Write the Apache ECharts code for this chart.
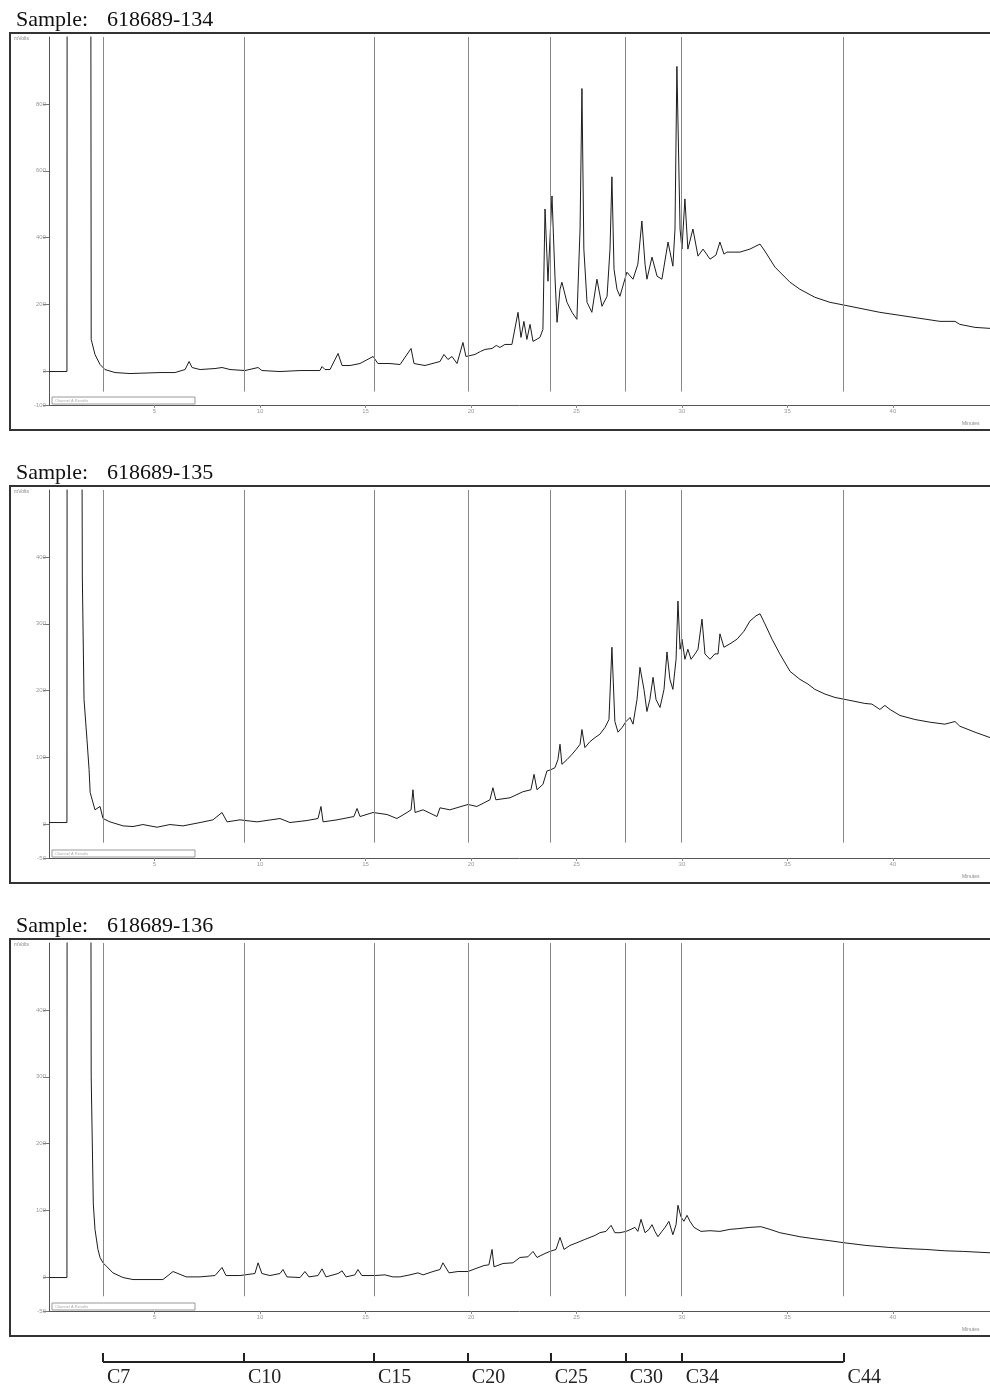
<!DOCTYPE html>
<html>
<head>
<meta charset="utf-8">
<script src="https://cdn.jsdelivr.net/npm/echarts@6/dist/echarts.min.js"></script>
<style>
html,body{margin:0;padding:0;background:#fff;}
#chart{width:990px;height:1390px;}
</style>
</head>
<body>
<div id="chart"></div>
<script>
// ---- data (time in minutes, response in mVolts) ----
const sampleIds = ['618689-134', '618689-135', '618689-136'];

const carbonTimes = [2.56, 9.24, 15.4, 19.85, 23.78, 27.33, 29.99, 37.66];
const carbonLabels = ['C7', 'C10', 'C15', 'C20', 'C25', 'C30', 'C34', 'C44'];

const xTickMinutes = [5, 10, 15, 20, 25, 30, 35, 40];
const yTicks134 = [-100, 0, 200, 400, 600, 800];
const yTicks135 = [-50, 0, 100, 200, 300, 400];
const yTicks136 = [-50, 0, 100, 200, 300, 400];

const trace134 = [
[0,0],[0.85,0],[0.86,1300],[1.98,1300],[2.0,96],[2.18,51],[2.42,21],[2.65,6],[3.13,-3],[3.84,-6],
[5.26,-3],[5.97,-3],[6.45,6],[6.64,30],[6.78,12],[7.16,6],[7.87,9],[8.2,12],[8.58,6],[9.29,3],
[9.91,12],[10.09,3],[10.95,0],[11.9,3],[12.84,3],[12.94,15],[13.08,6],[13.32,6],[13.7,54],[13.89,18],
[14.27,18],[14.74,24],[15.36,45],[15.59,24],[16.16,24],[16.64,21],[17.16,69],[17.3,24],[17.82,18],[18.53,30],
[18.72,51],[18.91,36],[19.1,45],[19.34,24],[19.62,87],[19.76,45],[20.19,51],[20.45,60],[20.66,66],[21.0,69],[21.2,78],[21.37,72],
[21.61,81],[21.94,81],[22.23,177],[22.37,102],[22.51,150],[22.65,96],[22.8,141],[22.94,90],[23.27,102],[23.41,126],
[23.51,486],[23.65,270],[23.84,525],[23.98,285],[24.08,147],[24.22,246],[24.31,267],[24.55,207],[24.79,177],[25.02,156],
[25.17,426],[25.26,846],[25.35,366],[25.5,207],[25.73,177],[25.97,276],[26.21,195],[26.45,225],[26.59,366],[26.68,582],
[26.78,306],[26.92,246],[27.06,225],[27.39,297],[27.68,276],[27.91,321],[28.1,450],[28.25,321],[28.34,276],[28.58,342],
[28.82,285],[29.05,276],[29.34,387],[29.57,315],[29.67,426],[29.76,912],[29.91,426],[30.0,366],[30.14,516],[30.28,366],
[30.52,426],[30.76,345],[31.0,366],[31.33,336],[31.61,348],[31.8,387],[31.99,351],[32.13,357],[32.75,357],[33.22,366],
[33.7,381],[33.93,360],[34.41,312],[35.12,267],[35.59,246],[36.3,222],[37.01,207],[37.73,198],[38.44,189],[39.38,177],
[40.33,168],[41.28,159],[42.23,150],[42.94,150],[43.17,141],[43.89,132],[44.6,129]
];

const trace135 = [
[0,3],[0.85,3],[0.86,700],[1.55,700],[1.58,370],[1.66,187],[1.8,127],[1.9,82],[1.95,48],[2.18,22],
[2.42,27],[2.56,9],[2.89,4],[3.51,-2],[3.98,-3],[4.45,0],[5.12,-4],[5.73,0],[6.35,-2],[7.16,3],
[7.77,7],[8.2,18],[8.44,4],[9.05,7],[9.86,4],[10.95,9],[11.42,3],[12.23,6],[12.75,9],[12.89,27],
[12.99,4],[13.65,7],[14.45,12],[14.6,24],[14.74,12],[15.36,18],[16.02,15],[16.49,9],[16.97,18],[17.16,22],
[17.25,52],[17.35,18],[17.73,22],[18.39,12],[18.53,25],[19.0,22],[19.86,30],[20.28,27],[20.9,37],[21.04,55],
[21.18,37],[21.85,40],[22.46,49],[22.84,52],[22.99,75],[23.13,52],[23.41,60],[23.6,80],[23.79,82],[23.98,85],
[24.12,97],[24.22,120],[24.31,90],[24.55,97],[24.79,105],[24.98,112],[25.17,120],[25.26,142],[25.4,115],[25.64,124],
[25.88,130],[26.11,135],[26.35,145],[26.54,157],[26.68,265],[26.82,154],[26.97,138],[27.16,145],[27.35,154],[27.54,160],
[27.68,150],[27.87,187],[28.01,235],[28.2,202],[28.34,169],[28.48,187],[28.63,220],[28.77,187],[28.96,175],[29.15,202],
[29.29,258],[29.43,217],[29.57,202],[29.72,247],[29.81,334],[29.91,262],[30.0,277],[30.14,247],[30.28,262],[30.43,247],
[30.62,255],[30.76,262],[30.95,307],[31.09,255],[31.33,247],[31.56,255],[31.71,255],[31.8,285],[31.99,265],[32.27,270],
[32.61,277],[32.94,289],[33.22,304],[33.51,312],[33.7,315],[33.93,300],[34.27,277],[34.64,255],[35.12,229],[35.59,217],
[35.97,210],[36.3,202],[36.78,195],[37.25,190],[37.73,187],[38.2,184],[38.67,181],[39.0,180],[39.38,172],[39.62,178],
[39.86,172],[40.33,163],[41.04,157],[41.75,153],[42.46,150],[42.94,154],[43.17,147],[43.89,138],[44.6,130]
];

const trace136 = [
[0,0],[0.85,0],[0.86,700],[1.98,700],[2.0,300],[2.1,110],[2.18,72],[2.32,42],[2.42,30],[2.56,22],
[2.75,16],[3.03,7],[3.51,0],[3.98,-3],[5.4,-3],[5.88,9],[6.5,1],[7.16,1],[7.87,3],[8.2,15],
[8.39,3],[9.05,3],[9.76,6],[9.91,22],[10.09,6],[10.47,3],[10.95,6],[11.09,12],[11.28,1],[11.9,0],
[12.13,9],[12.32,1],[12.75,3],[12.94,13],[13.13,1],[13.7,6],[13.89,10],[14.08,1],[14.5,4],[14.64,12],
[14.83,3],[15.45,3],[15.92,4],[16.3,1],[16.64,1],[17.11,4],[17.49,7],[17.73,4],[18.2,9],[18.53,12],
[18.67,22],[18.96,7],[19.38,9],[19.86,9],[20.19,13],[20.62,18],[20.85,19],[21.0,42],[21.09,16],[21.52,21],
[21.99,22],[22.32,30],[22.7,31],[22.94,39],[23.13,30],[23.32,33],[23.51,36],[23.74,39],[24.03,42],[24.22,60],
[24.41,42],[24.69,48],[25.02,52],[25.4,57],[25.64,60],[25.88,63],[26.11,67],[26.4,69],[26.64,78],[26.82,67],
[27.06,67],[27.35,69],[27.58,72],[27.77,75],[27.91,69],[28.06,87],[28.25,67],[28.44,72],[28.58,79],[28.72,69],
[28.86,61],[29.05,69],[29.2,75],[29.38,84],[29.57,64],[29.72,79],[29.81,108],[29.95,91],[30.09,84],[30.24,93],
[30.38,84],[30.57,75],[30.9,69],[31.33,70],[31.8,69],[32.27,72],[32.65,73],[33.22,75],[33.74,76],[34.17,72],
[34.64,67],[35.12,64],[35.59,61],[36.26,58],[37.01,55],[37.68,52],[38.72,48],[39.81,45],[40.81,43],[41.56,42],
[42.46,40],[43.36,39],[44.6,37]
];

// ---- layout ----
const panels = [
  {id: sampleIds[0], data: trace134, min: -100, max: 1000, ticks: yTicks134, lineLow: -60},
  {id: sampleIds[1], data: trace135, min: -50, max: 500, ticks: yTicks135, lineLow: -27},
  {id: sampleIds[2], data: trace136, min: -50, max: 500, ticks: yTicks136, lineLow: -28}
];
const offsets = [0, 453, 906];
const X_MIN = 0, X_MAX = 44.6;
const serif = '"Liberation Serif", "DejaVu Serif", serif';

const grids = [], xAxes = [], yAxes = [], series = [], graphics = [];

panels.forEach((p, k) => {
  const off = offsets[k];
  grids.push({left: 49, top: 37 + off, width: 941, height: 368});
  xAxes.push({
    type: 'value', gridIndex: k, min: X_MIN, max: X_MAX,
    axisLine: {show: true, onZero: false, lineStyle: {color: '#555', width: 1}},
    axisTick: {show: true, length: 3, customValues: xTickMinutes, lineStyle: {color: '#888'}},
    axisLabel: {customValues: xTickMinutes, fontSize: 6, color: '#999', margin: 3},
    splitLine: {show: false}
  });
  yAxes.push({
    type: 'value', gridIndex: k, min: p.min, max: p.max,
    axisLine: {show: true, lineStyle: {color: '#555', width: 1}},
    axisTick: {show: true, length: 6, customValues: p.ticks, lineStyle: {color: '#777'}},
    axisLabel: {customValues: p.ticks, fontSize: 6, color: '#999', margin: 3},
    splitLine: {show: false}
  });
  series.push({
    type: 'line', xAxisIndex: k, yAxisIndex: k, data: p.data,
    showSymbol: false, symbol: 'none', clip: true, silent: true,
    lineStyle: {color: '#1c1c1c', width: 1},
    markLine: {
      silent: true, symbol: ['none', 'none'], label: {show: false},
      lineStyle: {color: '#888', width: 1, type: 'solid'},
      emphasis: {disabled: true},
      data: carbonTimes.map(t => [{coord: [t, p.max]}, {coord: [t, p.lineLow]}])
    }
  });
  graphics.push(
    {type: 'rect', shape: {x: 10, y: 33 + off, width: 1010, height: 397},
     style: {fill: 'none', stroke: '#333', lineWidth: 2}, silent: true},
    {type: 'text', style: {text: 'Sample:', x: 16, y: 20 + off, font: '22px ' + serif, fill: '#111', textVerticalAlign: 'middle'}},
    {type: 'text', style: {text: p.id, x: 107, y: 20 + off, font: '22px ' + serif, fill: '#111', textVerticalAlign: 'middle'}},
    {type: 'text', style: {text: 'mVolts', x: 14, y: 39 + off, font: '5px sans-serif', fill: '#888', textVerticalAlign: 'middle'}},
    {type: 'text', style: {text: 'Minutes', x: 962, y: 424 + off, font: '5px sans-serif', fill: '#888', textVerticalAlign: 'middle'}},
    {type: 'rect', shape: {x: 52, y: 397 + off, width: 143, height: 7},
     style: {fill: '#fff', stroke: '#999', lineWidth: 1}},
    {type: 'text', style: {text: 'Channel A Results', x: 55, y: 400.5 + off, font: '4px sans-serif', fill: '#aaa', textVerticalAlign: 'middle'}}
  );
});

// carbon number scale
grids.push({left: 49, top: 1300, width: 941, height: 62});
xAxes.push({
  type: 'value', gridIndex: 3, min: X_MIN, max: X_MAX,
  axisLine: {show: false},
  axisTick: {show: true, inside: true, length: 9, customValues: carbonTimes, lineStyle: {color: '#222', width: 2}},
  axisLabel: {
    customValues: carbonTimes, align: 'left', padding: [0, 0, 0, 4], margin: 6,
    fontSize: 20, fontFamily: serif, color: '#222',
    formatter: v => {
      const i = carbonTimes.findIndex(t => Math.abs(t - v) < 1e-6);
      return i >= 0 ? carbonLabels[i] : '';
    }
  },
  splitLine: {show: false}
});
yAxes.push({type: 'value', gridIndex: 3, min: 0, max: 1, show: false});
series.push({
  type: 'line', xAxisIndex: 3, yAxisIndex: 3, clip: false, silent: true,
  showSymbol: false, symbol: 'none',
  lineStyle: {color: '#222', width: 2},
  data: [[carbonTimes[0], 0], [carbonTimes[carbonTimes.length - 1], 0]]
});

const chart = echarts.init(document.getElementById('chart'), null, {renderer: 'canvas'});
chart.setOption({
  animation: false,
  backgroundColor: '#fff',
  grid: grids,
  xAxis: xAxes,
  yAxis: yAxes,
  series: series,
  graphic: graphics
});
</script>
</body>
</html>
